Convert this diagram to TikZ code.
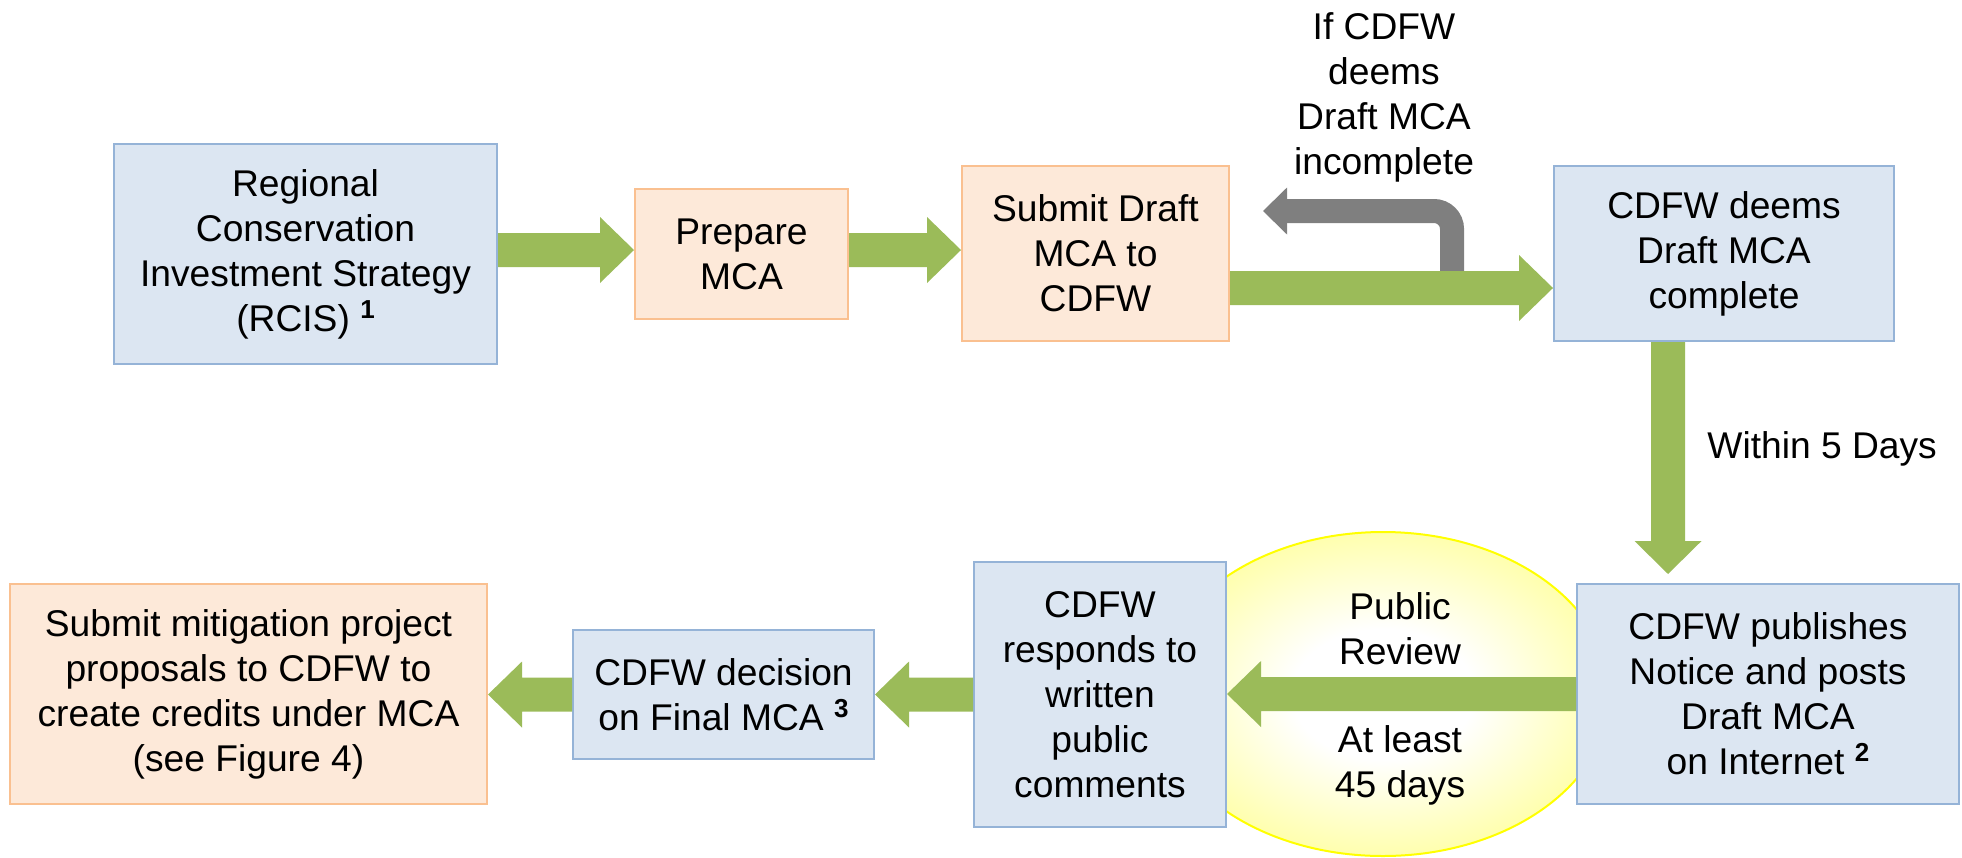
\documentclass[tikz,border=0pt]{standalone}
\usepackage{fontspec}
\setmainfont{Liberation Sans}
\usetikzlibrary{calc,shapes.geometric}
\definecolor{bfill}{HTML}{DCE6F2}
\definecolor{bdraw}{HTML}{95B3D7}
\definecolor{ofill}{HTML}{FDE9D9}
\definecolor{odraw}{HTML}{FAC090}
\definecolor{agreen}{HTML}{9BBB59}
\definecolor{agray}{HTML}{7F7F7F}
\definecolor{ylw}{HTML}{FFFF00}
\definecolor{ylwin}{HTML}{FFFFAE}
\pgfdeclareradialshading{revshade}{\pgfpoint{0bp}{0bp}}{color(0bp)=(white); color(10bp)=(white); color(25bp)=(ylwin); color(50bp)=(ylwin)}
\newcommand\supnum[1]{\raisebox{6.5pt}{\fontsize{13}{13}\selectfont\bfseries #1}}
% fat block arrows (start, end)
\newcommand\arrR[2]{\fill[agreen] let \p1=#1, \p2=#2 in (\x1,\y1+8.5pt) -- (\x2-17pt,\y1+8.5pt) -- (\x2-17pt,\y1+16.5pt) -- (\x2,\y1) -- (\x2-17pt,\y1-16.5pt) -- (\x2-17pt,\y1-8.5pt) -- (\x1,\y1-8.5pt) -- cycle;}
\newcommand\arrL[2]{\fill[agreen] let \p1=#1, \p2=#2 in (\x1,\y1+8.5pt) -- (\x2+17pt,\y1+8.5pt) -- (\x2+17pt,\y1+16.5pt) -- (\x2,\y1) -- (\x2+17pt,\y1-16.5pt) -- (\x2+17pt,\y1-8.5pt) -- (\x1,\y1-8.5pt) -- cycle;}
\newcommand\arrD[2]{\fill[agreen] let \p1=#1, \p2=#2 in (\x1-8.5pt,\y1) -- (\x1-8.5pt,\y2+16.5pt) -- (\x1-16.75pt,\y2+16.5pt) -- (\x1,\y2) -- (\x1+16.75pt,\y2+16.5pt) -- (\x1+8.5pt,\y2+16.5pt) -- (\x1+8.5pt,\y1) -- cycle;}
\tikzset{
  txt/.style={font=\fontsize{18.6}{22.5}\selectfont, align=center},
  box/.style={txt, rectangle, inner sep=0pt, line width=1pt},
  bluebox/.style={box, fill=bfill, draw=bdraw},
  orangebox/.style={box, fill=ofill, draw=odraw},
  lbl/.style={txt, inner sep=0pt},
}
\begin{document}
\begin{tikzpicture}[x=0.5pt, y=-0.5pt]
\useasboundingbox (0,0) rectangle (1962,857);
% review ellipse (background)
\node[ellipse, draw=ylw, line width=1pt, shading=revshade,
      minimum width=227pt, minimum height=162pt, inner sep=0pt] (review) at (1383,694) {};
% boxes
\node[bluebox, minimum width=191.5pt, minimum height=110pt] (rcis) at (305.5,254)
  {Regional\\Conservation\\Investment Strategy\\(RCIS) \supnum{1}};
\node[orangebox, minimum width=106.5pt, minimum height=65pt] (prep) at (741.5,254)
  {Prepare\\MCA};
\node[orangebox, minimum width=133.5pt, minimum height=87.5pt] (submit) at (1095.5,253.5)
  {Submit Draft\\MCA to\\CDFW};
\node[bluebox, minimum width=170pt, minimum height=87.5pt] (complete) at (1724,253.5)
  {CDFW deems\\Draft MCA\\complete};
\node[bluebox, minimum width=191pt, minimum height=110pt] (publish) at (1768,694)
  {CDFW publishes\\Notice and posts\\Draft MCA\\on Internet \supnum{2}};
\node[bluebox, minimum width=126pt, minimum height=132.5pt] (respond) at (1100,694.5)
  {CDFW\\responds to\\written\\public\\comments};
\node[bluebox, minimum width=150.5pt, minimum height=64.5pt] (decision) at (723.5,694.5)
  {CDFW decision\\on Final MCA \supnum{3}};
\node[orangebox, minimum width=238.5pt, minimum height=110pt] (mitig) at (248.5,694)
  {Submit mitigation project\\proposals to CDFW to\\create credits under MCA\\(see Figure 4)};
% labels
\node[lbl] (inc) at (1384,97) {If CDFW\\deems\\Draft MCA\\incomplete};
\node[lbl, anchor=west] (within) at (1707,449) {Within 5 Days};
\node[lbl] (pubrev) at (1400,629) {Public\\Review};
\node[lbl] (least) at (1400,765) {At least\\45 days};
% gray return arrow
\coordinate (g0) at ($(submit.east)+(222,22)$);
\coordinate (gtip) at ($(submit.east)+(33,-42.5)$);
\draw[agray, line width=12pt, rounded corners=9pt] (g0) |- ($(gtip)+(23,0)$);
\fill[agray] ($(gtip)+(24,-23.5)$) -- (gtip) -- ($(gtip)+(24,23.5)$) -- cycle;
% green arrows
\arrR{($(rcis.east)+(0,-4)$)}{(prep.west)}
\arrR{($(prep.east)+(0,-4)$)}{(submit.west)}
\arrR{($(submit.east)+(0,34.5)$)}{(complete.west)}
\arrD{($(complete.south)+(-56,0)$)}{($(publish.north)+(0,-9)$)}
\arrL{(publish.west)}{(respond.east)}
\arrL{(respond.west)}{(decision.east)}
\arrL{(decision.west)}{(mitig.east)}
\end{tikzpicture}
\end{document}
